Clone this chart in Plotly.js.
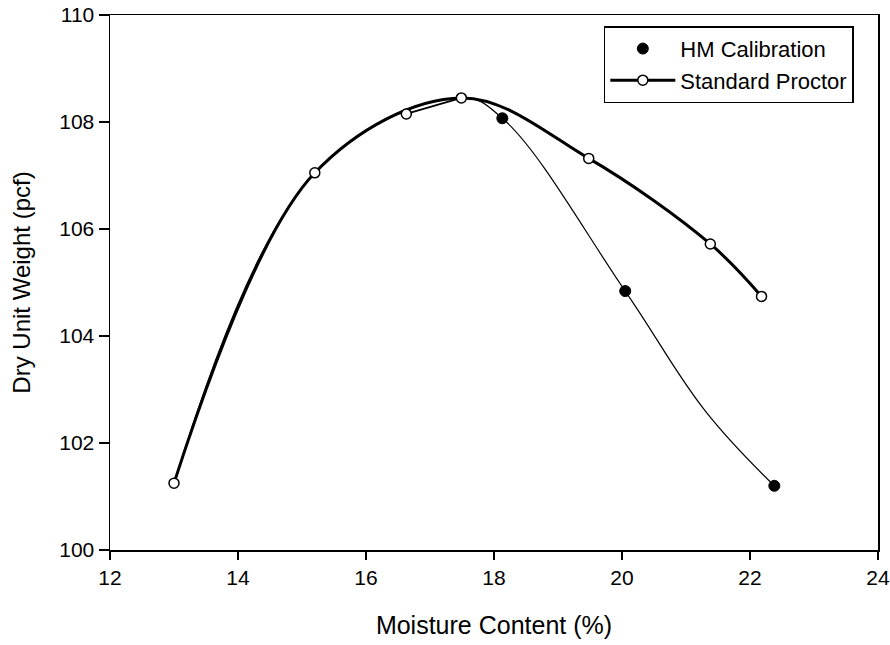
<!DOCTYPE html>
<html>
<head>
<meta charset="utf-8">
<script src="https://cdn.plot.ly/plotly-3.0.1.min.js"></script>
<style>html,body{margin:0;padding:0;background:#fff;}#chart{width:890px;height:645px;}</style>
</head>
<body>
<div id="chart"></div>
<script>
// Standard Proctor test points
const proctorMoisture = [13.0, 15.2, 16.63, 17.49, 19.48, 21.38, 22.18];
const proctorDensity  = [101.25, 107.05, 108.15, 108.45, 107.32, 105.72, 104.74];

// HM Calibration points
const hmMoisture = [18.13, 20.05, 22.38];
const hmDensity  = [108.07, 104.84, 101.20];

// Knots of the thin HM compaction curve (dry side shared with Proctor)
const hmCurveMoisture = [13.0, 15.2, 17.49, 18.13, 20.05, 21.3, 22.38];
const hmCurveDensity  = [101.25, 107.05, 108.45, 108.07, 104.84, 102.6, 101.20];

// The thick Proctor curve runs above the 16.63 % point, which hooks onto it
const outlierIndex = 2;

const xTicks = [12, 14, 16, 18, 20, 22, 24];
const yTicks = [100, 102, 104, 106, 108, 110];

const FONT = "'Liberation Sans', Arial, sans-serif";

const mainX = proctorMoisture.filter((_, i) => i !== outlierIndex);
const mainY = proctorDensity.filter((_, i) => i !== outlierIndex);
const hookX = proctorMoisture.slice(outlierIndex, outlierIndex + 2);
const hookY = proctorDensity.slice(outlierIndex, outlierIndex + 2);

const traces = [
  {
    x: hmCurveMoisture, y: hmCurveDensity,
    mode: 'lines', type: 'scatter', showlegend: false, hoverinfo: 'skip',
    line: {color: '#000', width: 1.2, shape: 'spline', smoothing: 1.1}
  },
  {
    x: hookX, y: hookY,
    mode: 'lines', type: 'scatter', showlegend: false, hoverinfo: 'skip',
    line: {color: '#000', width: 1.8}
  },
  {
    x: hmMoisture, y: hmDensity, name: 'HM Calibration',
    mode: 'markers', type: 'scatter',
    marker: {symbol: 'circle', size: 11, color: '#000', line: {color: '#000', width: 1}}
  },
  {
    x: mainX, y: mainY, name: 'Standard Proctor',
    mode: 'lines+markers', type: 'scatter',
    line: {color: '#000', width: 3, shape: 'spline', smoothing: 1},
    marker: {symbol: 'circle', size: 10, color: '#fff', line: {color: '#000', width: 1.5}}
  },
  {
    x: hookX.slice(0, 1), y: hookY.slice(0, 1), name: 'Standard Proctor', showlegend: false,
    mode: 'markers', type: 'scatter',
    marker: {symbol: 'circle', size: 10, color: '#fff', line: {color: '#000', width: 1.5}}
  }
];

const layout = {
  width: 890, height: 645,
  margin: {l: 110, r: 12, t: 15, b: 95},
  paper_bgcolor: '#fff', plot_bgcolor: '#fff',
  font: {family: FONT, color: '#000', size: 21},
  showlegend: true,
  xaxis: {
    range: [12, 24], tickvals: xTicks, ticktext: xTicks.map(String),
    showgrid: false, zeroline: false,
    showline: true, linecolor: '#000', linewidth: 1.5, mirror: true,
    ticks: 'outside', ticklen: 8, tickwidth: 1.5, tickcolor: '#000',
    tickfont: {family: FONT, size: 21, color: '#000'},
    title: {text: 'Moisture Content (%)', font: {family: FONT, size: 25, color: '#000'}, standoff: 29}
  },
  yaxis: {
    range: [100, 110], tickvals: yTicks, ticktext: yTicks.map(String),
    showgrid: false, zeroline: false,
    showline: true, linecolor: '#000', linewidth: 1.5, mirror: true,
    ticks: 'outside', ticklen: 10, tickwidth: 1.5, tickcolor: '#000',
    tickfont: {family: FONT, size: 21, color: '#000'},
    title: {text: 'Dry Unit Weight (pcf)', font: {family: FONT, size: 24, color: '#000'}, standoff: 22}
  },
  legend: {
    x: 0.643, y: 0.979, xanchor: 'left', yanchor: 'top',
    bgcolor: '#fff', bordercolor: '#000', borderwidth: 1.5,
    font: {family: FONT, size: 22, color: '#000'},
    itemwidth: 65
  }
};

Plotly.newPlot('chart', traces, layout, {displayModeBar: false, staticPlot: true});
</script>
</body>
</html>
